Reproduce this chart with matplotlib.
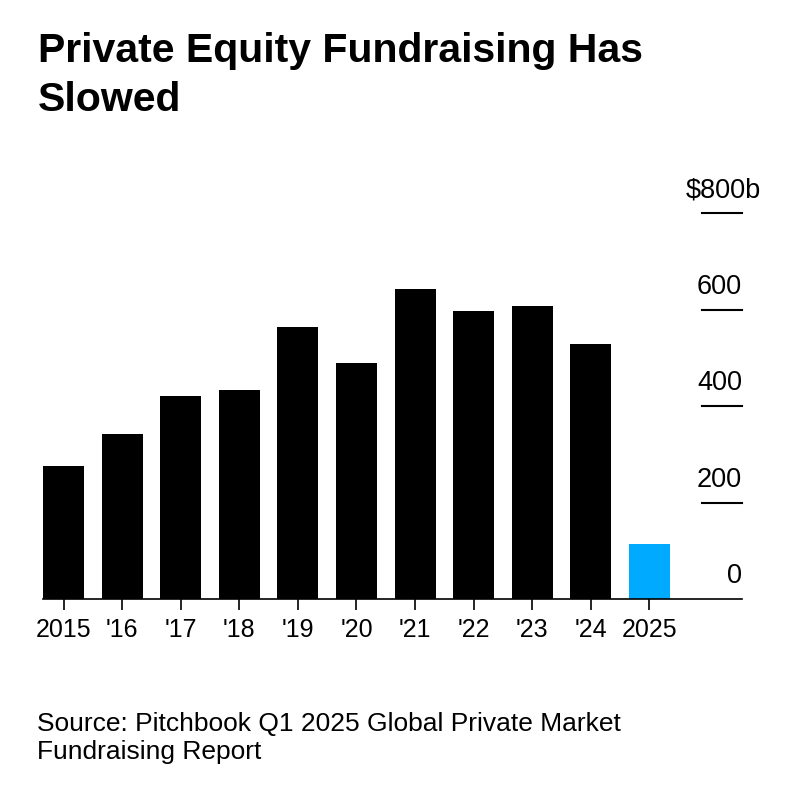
import numpy as np
import matplotlib.pyplot as plt

plt.rcParams['font.family'] = ['Liberation Sans', 'DejaVu Sans']

years = ['2015', "'16", "'17", "'18", "'19", "'20", "'21", "'22", "'23", "'24", '2025']
values = [276, 342, 422, 433, 565, 490, 644, 597, 607, 530, 114]
bar_colors = ['#000000'] * 10 + ['#00aaff']
yticks = [0, 200, 400, 600, 800]
ytick_labels = ['0', '200', '400', '600', '$800b']

W, H = 800, 796
fig = plt.figure(figsize=(W / 100, H / 100), dpi=100)
ax = fig.add_axes([43 / W, 1 - 599.3 / H, (742 - 43) / W, (599.3 - 213.3) / H])

x = np.arange(len(years))
ax.bar(x, values, width=0.7, color=bar_colors, zorder=2)
ax.set_xlim(-0.35, 11.58)
ax.set_ylim(0, 800)

for s in ['top', 'right', 'left']:
    ax.spines[s].set_visible(False)
ax.spines['bottom'].set_linewidth(1.2)
ax.spines['bottom'].set_zorder(3)

ax.set_xticks(x)
ax.set_xticklabels(years, fontsize=18)
ax.tick_params(axis='x', length=8, width=1.2, pad=5.5)
ax.set_yticks([])

# short tick lines on the right + labels above them
for v, lab in zip(yticks, ytick_labels):
    if v > 0:
        ax.axhline(v, xmin=0.943, xmax=1.0, color='black', lw=1.5, clip_on=False)
    # the "b" of the top label hangs past the digit column
    dx = 14 if lab.endswith('b') else 0
    ax.annotate(lab, xy=(1.0, v), xycoords=ax.get_yaxis_transform(),
                xytext=(dx, 11.5), textcoords='offset points',
                ha='right', va='baseline', fontsize=19.5, annotation_clip=False)

fig.text(38 / W, 1 - 62 / H, 'Private Equity Fundraising Has', fontsize=29.5,
         fontweight='bold', va='baseline', ha='left')
fig.text(38 / W, 1 - 111 / H, 'Slowed', fontsize=29.5,
         fontweight='bold', va='baseline', ha='left')

fig.text(37 / W, 1 - 731 / H, 'Source: Pitchbook Q1 2025 Global Private Market',
         fontsize=19, va='baseline', ha='left')
fig.text(37 / W, 1 - 759.5 / H, 'Fundraising Report',
         fontsize=19, va='baseline', ha='left')

fig.savefig('out.png', dpi=100)
